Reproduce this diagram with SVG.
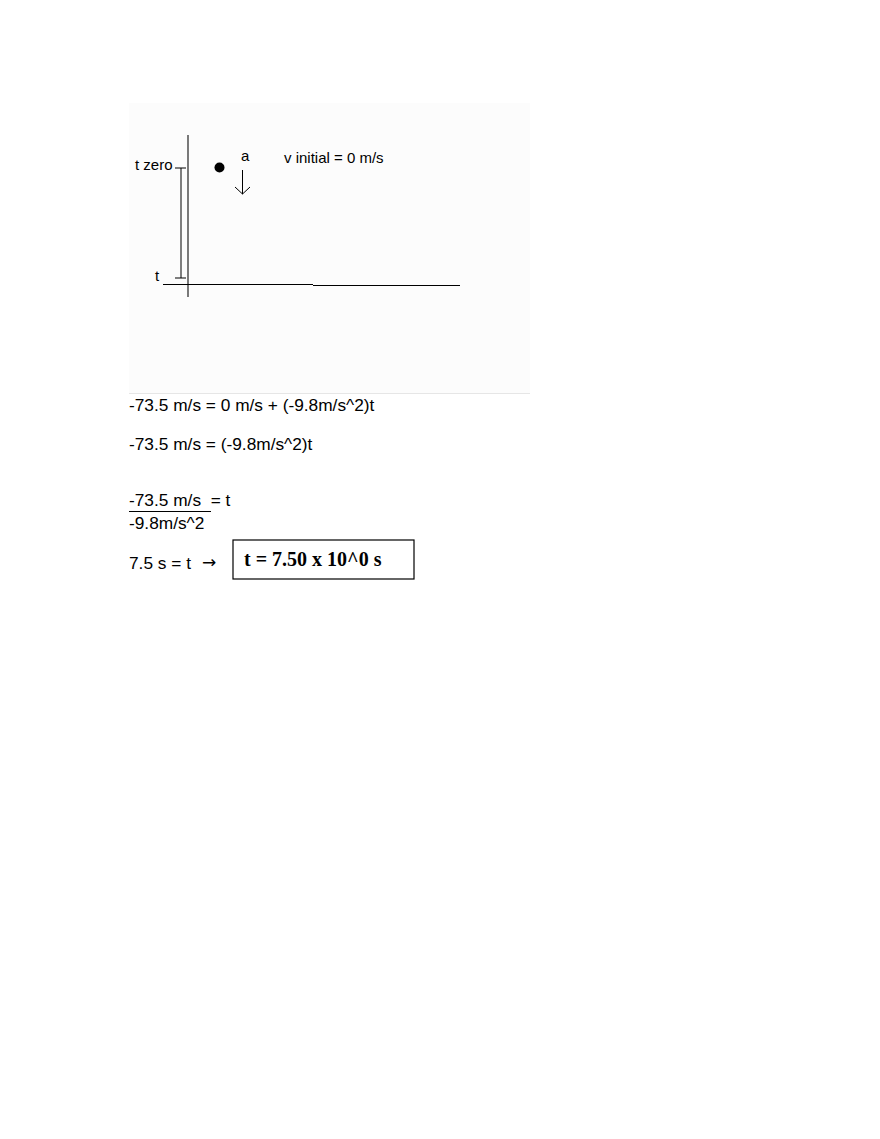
<svg xmlns="http://www.w3.org/2000/svg" width="880" height="1139" viewBox="0 0 880 1139">
<style>
.t{font-family:"Liberation Sans",Arial,sans-serif;fill:#000}
.s{font-size:15px}
.e{font-size:17.3px}
.ln{stroke:#000;stroke-width:1;fill:none}
.ax{stroke:#333;stroke-width:1.3;fill:none}
</style>
<rect width="880" height="1139" fill="#fff"/>
<g id="panel">
<rect x="129" y="103" width="401" height="290" fill="#fcfcfc"/>
<line x1="129" y1="393.5" x2="530" y2="393.5" stroke="#e6e6e6" stroke-width="1"/>
</g>
<g id="axes">
<line class="ax" x1="188" y1="135" x2="188" y2="297"/>
<line class="ln" x1="163" y1="284.5" x2="313" y2="284.5"/>
<line class="ln" x1="313" y1="285.5" x2="460" y2="285.5"/>
</g>
<g id="bracket">
<line class="ln" x1="181" y1="168" x2="181" y2="278"/>
<line class="ln" x1="175" y1="168" x2="186" y2="168"/>
<line class="ln" x1="175" y1="278" x2="186" y2="278"/>
<text class="t s" x="135" y="170">t zero</text>
<text class="t s" x="155" y="281">t</text>
</g>
<g id="ball">
<circle cx="219.5" cy="167.5" r="5" fill="#000"/>
</g>
<g id="accel">
<text class="t s" x="241" y="161">a</text>
<line class="ln" x1="242.5" y1="170" x2="242.5" y2="194"/>
<polyline class="ln" points="235,187 242.5,194 250,187"/>
</g>
<g id="vinit">
<text class="t s" x="284" y="163">v initial = 0 m/s</text>
</g>
<g id="equations">
<text class="t e" x="129" y="411">-73.5 m/s = 0 m/s + (-9.8m/s^2)t</text>
<text class="t e" x="129" y="450">-73.5 m/s = (-9.8m/s^2)t</text>
<text class="t e" x="129" y="506" xml:space="preserve">-73.5 m/s  = t</text>
<line class="ln" x1="129" y1="511.5" x2="211" y2="511.5"/>
<text class="t e" x="129" y="529">-9.8m/s^2</text>
<text class="t e" x="129" y="569">7.5 s = t</text>
<text x="202" y="568" style="font-family:'DejaVu Sans',sans-serif;font-size:17px">→</text>
</g>
<g id="answer">
<rect x="233" y="540" width="181" height="39" fill="#fff" stroke="#000" stroke-width="1.2"/>
<text x="244" y="566" style="font-family:'Liberation Serif','Times New Roman',serif;font-weight:bold;font-size:20px">t = 7.50 x 10^0 s</text>
</g>
</svg>
